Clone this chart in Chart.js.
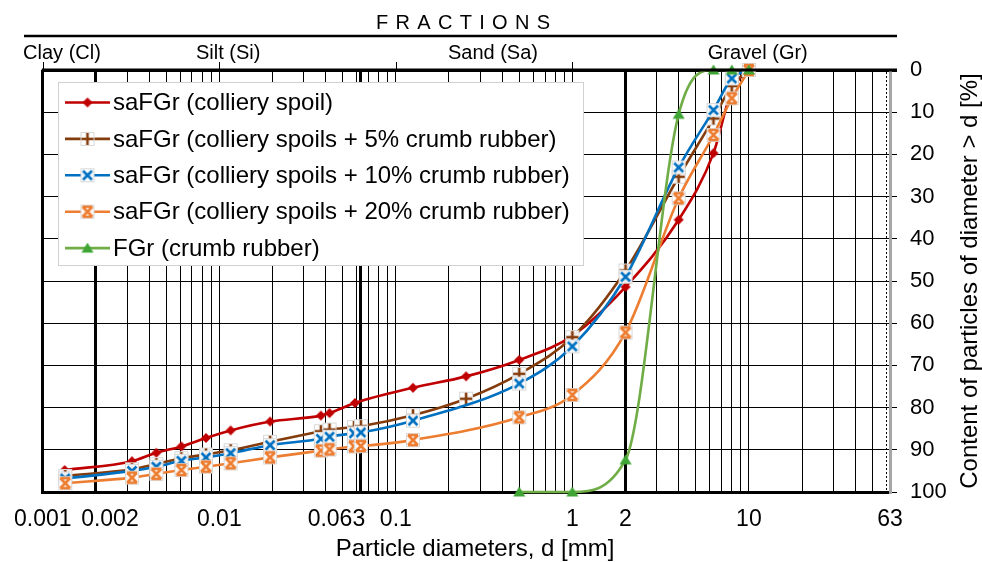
<!DOCTYPE html>
<html><head><meta charset="utf-8">
<script src="https://cdn.jsdelivr.net/npm/chart.js@4/dist/chart.umd.min.js"></script>
<style>html,body{margin:0;padding:0;background:#fff}canvas{display:block}</style>
</head><body>
<canvas id="c" width="982" height="562"></canvas>
<script>
// ---------- data ----------
const seriesNames = [
  'saFGr (colliery spoil)',
  'saFGr (colliery spoils + 5% crumb rubber)',
  'saFGr (colliery spoils + 10% crumb rubber)',
  'saFGr (colliery spoils + 20% crumb rubber)',
  'FGr (crumb rubber)'
];
const sizesRed    = [0.00133,0.0032,0.0044,0.0061,0.0084,0.0116,0.0194,0.0376,0.0421,0.0587,0.125,0.25,0.5,1,2,4,6.3,8,10];
const passRed     = [94.8,92.7,90.7,89.2,87.2,85.4,83.3,81.9,81.3,78.9,75.3,72.6,68.7,63.0,51.4,35.5,19.7,4.8,0];
const sizesBrown  = [0.00134,0.0032,0.0044,0.0061,0.0084,0.0116,0.0194,0.0376,0.0421,0.0579,0.0634,0.125,0.25,0.5,1,2,4,6.3,8,10];
const passBrown   = [96.2,94.6,93.4,92.0,91.1,90.1,88.1,85.6,85.2,84.6,84.4,81.8,77.9,72.0,63.3,47.5,25.3,11.5,3.8,0];
const sizesBlue   = [0.00134,0.0032,0.0044,0.0061,0.0084,0.0116,0.0194,0.0376,0.0421,0.0579,0.0634,0.125,0.5,1,2,4,6.3,8,10];
const passBlue    = [96.8,95.0,94.0,92.6,91.8,90.8,88.9,87.4,86.9,86.1,85.9,83.1,74.3,65.5,49.0,23.1,9.5,2.0,0];
const sizesOrange = [0.00134,0.0032,0.0044,0.0061,0.0084,0.0116,0.0194,0.0376,0.0421,0.0579,0.0634,0.125,0.5,1,2,4,6.3,8,10];
const passOrange  = [97.9,96.6,95.7,94.8,94.0,93.2,91.8,90.2,89.9,89.2,89.1,87.7,82.3,77.0,62.2,30.4,15.4,6.7,0];
const sizesGreen  = [0.5,1,2,4,6.3,8,10];
const passGreen   = [100,100,92.4,10.5,0,0,0];

const xTickLabels = [0.001,0.002,0.01,0.063,0.1,1,2,10,63];
const xShiftedLabels = [0.002,0.063];          // labels set beside their lines
const yTickValues = [0,10,20,30,40,50,60,70,80,90,100];
const fractionNames = ['Clay (Cl)','Silt (Si)','Sand (Sa)','Gravel (Gr)'];
const fractionBounds = [0.001,0.002,0.063,2,63];
const topDecades = [0.001,0.01,0.1,1];

// ---------- styling helpers ----------
const FONT = "'Liberation Sans', Arial, sans-serif";
Chart.defaults.font.family = FONT;
Chart.defaults.color = '#000';

const xGridValues = (() => {
  const v = [];
  for (let e = -3; e <= 1; e++) for (let k = 1; k <= 9; k++) {
    const val = +(k * Math.pow(10, e)).toPrecision(6);
    if (val <= 63) v.push(val);
  }
  v.push(0.063); v.push(63);
  return v.sort((a, b) => a - b);
})();
const near = (a, b) => Math.abs(a - b) / b < 1e-6;
const boldX = [0.002, 0.063, 2];
const labelShift = { '0.002': 14, '0.063': -24 };

function marker(kind, color) {
  const s = 16, c = document.createElement('canvas');
  c.width = s; c.height = s;
  const g = c.getContext('2d'), m = s / 2;
  if (kind === 'plus' || kind === 'x' || kind === 'hourglass') {
    g.fillStyle = 'rgba(255,255,255,0.92)';
    g.fillRect(1, 1, 14, 14);
    g.strokeStyle = 'rgba(200,200,200,0.7)';
    g.lineWidth = 1;
    g.strokeRect(1.5, 1.5, 13, 13);
  }
  g.strokeStyle = color; g.fillStyle = color; g.lineWidth = 2.6;
  g.beginPath();
  if (kind === 'diamond') {
    g.moveTo(m, m - 5); g.lineTo(m + 5, m); g.lineTo(m, m + 5); g.lineTo(m - 5, m); g.closePath(); g.fill();
  } else if (kind === 'plus') {
    g.moveTo(m, m - 6); g.lineTo(m, m + 6); g.moveTo(m - 6, m); g.lineTo(m + 6, m); g.stroke();
  } else if (kind === 'x') {
    g.moveTo(m - 4.5, m - 4.5); g.lineTo(m + 4.5, m + 4.5); g.moveTo(m + 4.5, m - 4.5); g.lineTo(m - 4.5, m + 4.5); g.stroke();
  } else if (kind === 'hourglass') {
    g.moveTo(m - 5, m - 5); g.lineTo(m + 5, m + 5); g.moveTo(m + 5, m - 5); g.lineTo(m - 5, m + 5);
    g.moveTo(m - 5, m - 5); g.lineTo(m + 5, m - 5); g.moveTo(m - 5, m + 5); g.lineTo(m + 5, m + 5); g.stroke();
  } else if (kind === 'triangle') {
    g.moveTo(m, m - 5.5); g.lineTo(m + 6, m + 4.5); g.lineTo(m - 6, m + 4.5); g.closePath(); g.fill();
  }
  return c;
}

const colors = ['#C00000', '#843C0C', '#0070C0', '#ED7D31', '#70AD47'];
const markers = [
  marker('diamond', '#C00000'),
  marker('plus', '#843C0C'),
  marker('x', '#0070C0'),
  marker('hourglass', '#ED7D31'),
  marker('triangle', '#3FA535')
];
const sizeSets = [sizesRed, sizesBrown, sizesBlue, sizesOrange, sizesGreen];
const passSets = [passRed, passBrown, passBlue, passOrange, passGreen];

const datasets = seriesNames.map((name, i) => ({
  label: name,
  data: sizeSets[i].map((x, j) => ({ x: x, y: passSets[i][j] })),
  borderColor: colors[i],
  backgroundColor: colors[i],
  borderWidth: 2.6,
  pointStyle: markers[i],
  pointRadius: 6,
  cubicInterpolationMode: 'monotone',
  clip: false,
  order: 5 - i
}));

// ---------- decorations plugin ----------
const deco = {
  id: 'deco',
  beforeDraw(chart) {
    const ctx = chart.ctx;
    ctx.save(); ctx.fillStyle = '#fff'; ctx.fillRect(0, 0, chart.width, chart.height); ctx.restore();
  },
  beforeDatasetsDraw(chart) {
    const ctx = chart.ctx, x = chart.scales.x, a = chart.chartArea;
    const px = Math.round(x.getPixelForValue(60)) + 0.5;
    ctx.save();
    ctx.strokeStyle = '#000'; ctx.lineWidth = 1; ctx.setLineDash([2, 2]);
    ctx.beginPath(); ctx.moveTo(px, a.top + 2); ctx.lineTo(px, a.bottom - 2); ctx.stroke();
    ctx.restore();
  },
  afterDraw(chart) {
    const ctx = chart.ctx, x = chart.scales.x, a = chart.chartArea;
    ctx.save();
    ctx.fillStyle = '#000'; ctx.strokeStyle = '#000';
    // FRACTIONS header
    ctx.font = '20px ' + FONT;
    ctx.textBaseline = 'middle';
    ctx.textAlign = 'left';
    const word = 'FRACTIONS';
    const ls = 7.3;
    if ('letterSpacing' in ctx) {
      ctx.letterSpacing = ls + 'px';
      const w = ctx.measureText(word).width - ls;
      ctx.fillText(word, 463 - w / 2, 23);
      ctx.letterSpacing = '0px';
    } else {
      let total = 0; for (const ch of word) total += ctx.measureText(ch).width + ls; total -= ls;
      let cx = 463 - total / 2;
      for (const ch of word) { ctx.fillText(ch, cx, 23); cx += ctx.measureText(ch).width + ls; }
    }
    ctx.lineWidth = 2.5;
    ctx.beginPath(); ctx.moveTo(24, 36); ctx.lineTo(897, 36); ctx.stroke();
    // fraction names
    ctx.font = '20px ' + FONT;
    ctx.textAlign = 'center';
    for (let i = 0; i < fractionNames.length; i++) {
      const cx = i === 0 ? 62 : x.getPixelForValue(Math.sqrt(fractionBounds[i] * fractionBounds[i + 1]));
      ctx.fillText(fractionNames[i], cx, 53);
    }
    // top decade ticks
    ctx.lineWidth = 1;
    for (const d of topDecades) {
      const px = Math.round(x.getPixelForValue(d)) + 0.5;
      ctx.beginPath(); ctx.moveTo(px, a.top - 8); ctx.lineTo(px, a.top); ctx.stroke();
    }
    ctx.lineWidth = 3;
    ctx.beginPath(); ctx.moveTo(a.left - 1, a.top); ctx.lineTo(897, a.top); ctx.stroke();
    // shifted x tick labels
    ctx.font = '23px ' + FONT;
    ctx.textAlign = 'center'; ctx.textBaseline = 'middle';
    for (const v of xShiftedLabels) {
      ctx.fillText(String(v), x.getPixelForValue(v) + labelShift[String(v)], 520);
    }
    // axis titles
    ctx.font = '24px ' + FONT;
    ctx.fillText('Particle diameters, d [mm]', 475, 549);
    ctx.save();
    ctx.translate(970, 281); ctx.rotate(-Math.PI / 2);
    ctx.fillText('Content of particles of diameter > d [%]', 0, 0);
    ctx.restore();
    // legend
    const lx = 58, ly = 82, lw = 525, lh = 183;
    ctx.fillStyle = '#fff'; ctx.fillRect(lx, ly, lw, lh);
    ctx.strokeStyle = '#d0d0d0'; ctx.lineWidth = 1; ctx.strokeRect(lx + 0.5, ly + 0.5, lw, lh);
    ctx.font = '24px ' + FONT; ctx.textAlign = 'left'; ctx.textBaseline = 'middle';
    chart.data.datasets.forEach((ds, i) => {
      const ry = 102.5 + i * 36.4;
      ctx.strokeStyle = ds.borderColor; ctx.lineWidth = 2.6;
      ctx.beginPath(); ctx.moveTo(65, ry); ctx.lineTo(110, ry); ctx.stroke();
      const img = ds.pointStyle;
      ctx.drawImage(img, 87.5 - img.width / 2, ry - img.height / 2);
      ctx.fillStyle = '#000';
      ctx.fillText(ds.label, 113, ry + 1);
    });
    ctx.restore();
  }
};

new Chart(document.getElementById('c'), {
  type: 'line',
  data: { datasets },
  plugins: [deco],
  options: {
    responsive: false,
    animation: false,
    events: [],
    layout: { padding: { left: 41, top: 70, right: 0, bottom: 0 } },
    plugins: { legend: { display: false }, tooltip: { enabled: false } },
    scales: {
      x: {
        type: 'logarithmic', min: 0.001, max: 63,
        afterBuildTicks: s => { s.ticks = xGridValues.map(v => ({ value: v })); },
        afterFit: s => { s.height = 70; },
        ticks: {
          autoSkip: false, maxRotation: 0, minRotation: 0, padding: 14, color: '#000',
          font: { size: 23 },
          callback: v => {
            if (xShiftedLabels.some(t => near(v, t))) return '';
            const f = xTickLabels.find(t => near(v, t));
            return f === undefined ? '' : String(f);
          }
        },
        grid: {
          drawTicks: false,
          color: c => { const v = c.tick ? c.tick.value : 0; if (near(v, 63)) return '#a6a6a6'; if (near(v, 60)) return 'rgba(0,0,0,0)'; return '#000'; },
          lineWidth: c => { const v = c.tick ? c.tick.value : 0; if (near(v, 0.001) || near(v, 63)) return 3; return boldX.some(b => near(v, b)) ? 3 : 1; }
        },
        border: { display: true, color: '#000', width: 3 }
      },
      y: {
        position: 'right', reverse: true, min: 0, max: 100,
        afterBuildTicks: s => { s.ticks = yTickValues.map(v => ({ value: v })); },
        afterFit: s => { s.width = 92; },
        ticks: { padding: 13, color: '#000', font: { size: 22 } },
        grid: {
          color: '#000',
          lineWidth: c => (c.tick && c.tick.value === 0) ? 3 : 1,
          tickLength: 7, tickColor: '#000',
          tickWidth: c => (c.tick && c.tick.value === 0) ? 3 : 1
        },
        border: { display: true, color: '#a6a6a6', width: 3 }
      }
    }
  }
});
</script>
</body></html>
